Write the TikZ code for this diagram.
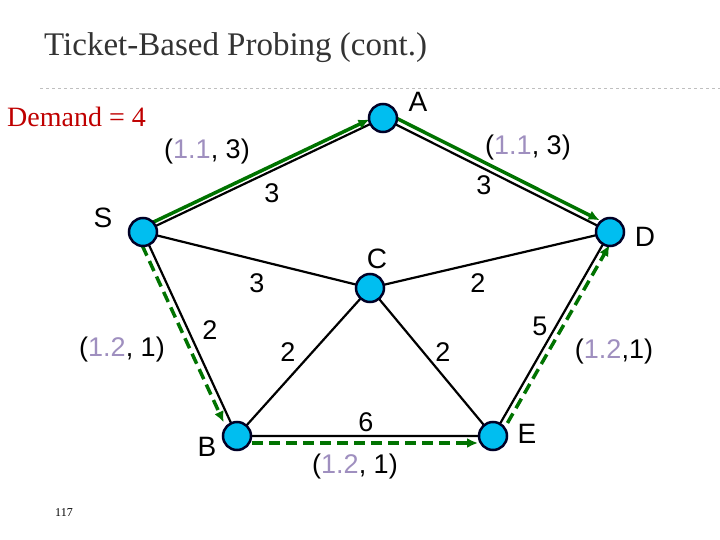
\documentclass[tikz,border=0pt]{standalone}
\usepackage{fontspec}
\setmainfont{Liberation Serif}
\setsansfont{Liberation Sans}
\begin{document}
\begin{tikzpicture}[x=1pt,y=-1pt,
  vtx/.style={circle,draw=black!85!blue,line width=2.5pt,fill={rgb,255:red,0;green,190;blue,240},minimum size=28pt,inner sep=0pt},
  edge/.style={line width=2.2pt},
  garrow/.style={draw=green!45!black,line width=3.5pt,-{Latex[length=11pt,width=10pt]}},
  gdash/.style={garrow,dash pattern=on 11pt off 6pt},
  lbl/.style={font=\sffamily\fontsize{28}{30}\selectfont,inner sep=0pt},
  sm/.style={font=\sffamily\fontsize{27}{29}\selectfont,inner sep=0pt}]
\usetikzlibrary{arrows.meta}
\useasboundingbox (0,0) rectangle (720,540);
\definecolor{lav}{HTML}{9F8FBF}
\node[anchor=west,inner sep=0pt,font=\fontsize{33}{35}\selectfont,text=black!80] (title) at (44,48) {Ticket-Based Probing (cont.)};
\draw[gray!50,dashed] (40,88) -- (720,88);
\node[anchor=west,inner sep=0pt,font=\fontsize{28}{30}\selectfont,text=red!75!black] (dem) at (7,117) {Demand = 4};
\coordinate (A) at (383,118);
\coordinate (S) at (143,232);
\coordinate (D) at (610,232);
\coordinate (C) at (370,288);
\coordinate (B) at (237,436);
\coordinate (E) at (493,436);
\draw[edge] (S)--(A) (A)--(D) (S)--(C) (C)--(D) (S)--(B) (C)--(B) (C)--(E) (B)--(E) (D)--(E);
\draw[garrow,shorten >=15pt] ([yshift=5]S) -- ([yshift=5]A);
\draw[garrow,shorten >=15pt] ([shift={(3,-5)}]A) -- ([shift={(3,-5)}]D);
\draw[gdash,shorten >=15pt,shorten <=15pt] ([xshift=-7]S) -- ([xshift=-7]B);
\draw[gdash,shorten >=15pt,shorten <=15pt] ([yshift=-7]B) -- ([yshift=-7]E);
\draw[gdash,shorten >=15pt,shorten <=15pt] ([xshift=7]E) -- ([xshift=7]D);
\foreach \n in {A,S,D,C,B,E} \node[vtx] (n\n) at (\n) {};
\node[lbl] (lA) at (418,102) {A};
\node[lbl] (lS) at (103,218) {S};
\node[lbl] (lD) at (645,237) {D};
\node[lbl] (lC) at (377,259) {C};
\node[lbl] (lB) at (207,447) {B};
\node[lbl] (lE) at (527,434) {E};
\node[sm] (t1) at (207,152) {(\textcolor{lav}{1.1}, 3)};
\node[sm] (w1) at (272,193) {3};
\node[sm] (t2) at (528,148) {(\textcolor{lav}{1.1}, 3)};
\node[sm] (w2) at (484,185) {3};
\node[sm] (w3) at (257,283) {3};
\node[sm] (w4) at (478,283) {2};
\node[sm] (t3) at (122,350) {(\textcolor{lav}{1.2}, 1)};
\node[sm] (w5) at (210,330) {2};
\node[sm] (w6) at (288,352) {2};
\node[sm] (w7) at (443,352) {2};
\node[sm] (w8) at (540,326) {5};
\node[sm] (t4) at (614,352) {(\textcolor{lav}{1.2},1)};
\node[sm] (w9) at (366,422) {6};
\node[sm] (t5) at (355,467) {(\textcolor{lav}{1.2}, 1)};
\node[inner sep=0pt,font=\fontsize{12}{14}\selectfont] (pg) at (64,513) {117};
\end{tikzpicture}
\end{document}
